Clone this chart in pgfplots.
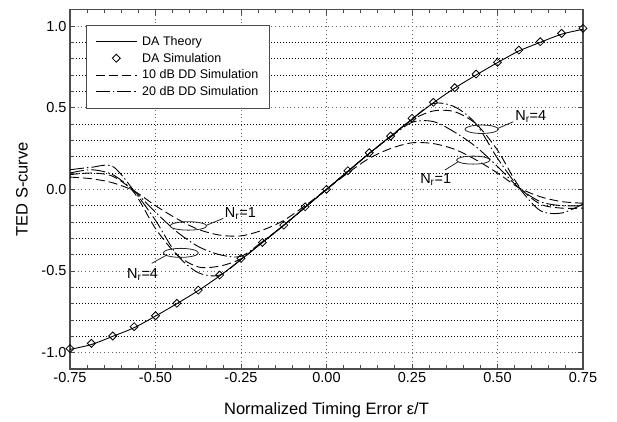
\documentclass[border=0pt]{standalone}
\usepackage{fontspec}
\setmainfont{Liberation Sans}
\usepackage{pgfplots}
\pgfplotsset{compat=1.18}
\pgfplotsset{
  lineleg/.style={legend image code/.code={\draw[##1] (0pt,0pt) -- (41pt,0pt);}},
  markleg/.style={legend image code/.code={\draw[mark repeat=2,mark phase=2,##1] plot coordinates {(0pt,0pt) (20.5pt,0pt) (41pt,0pt)};}},
}
\begin{document}
\begin{tikzpicture}
\begin{axis}[
  scale only axis, width=513pt, height=359.3pt,
  xmin=-0.75, xmax=0.75, ymin=-1.1, ymax=1.1,
  xtick={-0.75,-0.5,-0.25,0,0.25,0.5,0.75},
  xticklabels={-0.75,-0.50,-0.25,0.00,0.25,0.50,0.75},
  ytick={-1,-0.5,0,0.5,1},
  yticklabels={-1.0,-0.5,0.0,0.5,1.0},
  minor x tick num=4, minor y tick num=4,
  tick align=inside, tick pos=both,
  major tick length=5pt, minor tick length=3.5pt,
  axis line style={draw=black!70, line width=1.2pt},
  every tick/.style={draw=black!70, line width=0.9pt},
  xmajorgrids, ymajorgrids, yminorgrids,
  major grid style={draw=black!60, line width=0.8pt, dash pattern=on 0.8pt off 3pt},
  minor grid style={draw=black, line width=0.8pt, dash pattern=on 0.8pt off 2.2pt},
  tick label style={font=\fontsize{14.5}{16}\selectfont},
  label style={font=\fontsize{16.5}{19}\selectfont},
  xlabel={Normalized Timing Error ε/T},
  ylabel={TED S-curve},
  xlabel style={at={(axis description cs:0.5,-0.114)}, anchor=center},
  ylabel style={at={(axis description cs:-0.0936,0.5)}, anchor=center},
  legend cell align=left,
  legend style={at={(axis description cs:0.031,0.958)}, anchor=north west,
    draw=black!70, line width=0.8pt, fill=white,
    font=\fontsize{12.5}{14}\selectfont, inner xsep=9pt, inner ysep=9pt,
    row sep=2.2pt, column sep=3pt},
]
% DA theory
\addplot[black, line width=0.9pt, smooth, lineleg] coordinates {
(-0.75,-0.98) (-0.6875,-0.95) (-0.625,-0.90) (-0.5625,-0.847) (-0.5,-0.776)
(-0.4375,-0.70) (-0.375,-0.62) (-0.3125,-0.53) (-0.25,-0.43) (-0.1875,-0.325)
(-0.125,-0.22) (-0.0625,-0.11) (0,0) (0.0625,0.11) (0.125,0.22) (0.1875,0.325)
(0.25,0.43) (0.3125,0.53) (0.375,0.62) (0.4375,0.70) (0.5,0.776) (0.5625,0.847)
(0.625,0.90) (0.6875,0.95) (0.75,0.98)};
\addlegendentry{DA Theory}
% DA simulation
\addplot[black, only marks, mark=square, mark size=2.8pt, mark options={rotate=45, solid, line width=0.8pt}, markleg] coordinates {
(-0.75,-0.975) (-0.6875,-0.943) (-0.625,-0.898) (-0.5625,-0.841) (-0.5,-0.774)
(-0.4375,-0.698) (-0.375,-0.617) (-0.3125,-0.525) (-0.25,-0.423) (-0.1875,-0.325)
(-0.125,-0.219) (-0.0625,-0.107) (0,0) (0.0625,0.114) (0.125,0.224) (0.1875,0.326)
(0.25,0.435) (0.3125,0.533) (0.375,0.622) (0.4375,0.706) (0.5,0.778) (0.5625,0.853)
(0.625,0.904) (0.6875,0.955) (0.75,0.986)};
\addlegendentry{DA Simulation}
% 10 dB DD, Nr=1
\addplot[black, line width=0.9pt, smooth, dash pattern=on 9pt off 4pt, lineleg] coordinates {
(-0.75,0.075) (-0.6875,0.065) (-0.625,0.04) (-0.5625,-0.01) (-0.5,-0.10)
(-0.4375,-0.18) (-0.375,-0.245) (-0.3125,-0.28) (-0.25,-0.285) (-0.1875,-0.25)
(-0.125,-0.19) (-0.0625,-0.10) (0,0) (0.0625,0.10) (0.125,0.19) (0.1875,0.25)
(0.25,0.285) (0.3125,0.28) (0.375,0.245) (0.4375,0.18) (0.5,0.10) (0.5625,0.01)
(0.625,-0.045) (0.6875,-0.075) (0.75,-0.085)};
\addlegendentry{10 dB DD Simulation}
% 20 dB DD, Nr=1
\addplot[black, line width=0.9pt, smooth, dash pattern=on 14pt off 3pt on 1.5pt off 3pt, lineleg] coordinates {
(-0.75,0.10) (-0.6875,0.12) (-0.625,0.09) (-0.5625,-0.01) (-0.5,-0.14)
(-0.4375,-0.26) (-0.375,-0.35) (-0.3125,-0.40) (-0.25,-0.41) (-0.1875,-0.32)
(-0.125,-0.22) (-0.0625,-0.11) (0,0) (0.0625,0.11) (0.125,0.22) (0.1875,0.32)
(0.25,0.41) (0.3125,0.415) (0.375,0.35) (0.4375,0.26) (0.5,0.14) (0.5625,0.01)
(0.625,-0.075) (0.6875,-0.10) (0.75,-0.10)};
\addlegendentry{20 dB DD Simulation\hspace{5pt}}
% 10 dB DD, Nr=4
\addplot[black, line width=0.9pt, smooth, dash pattern=on 9pt off 4pt, forget plot] coordinates {
(-0.75,0.09) (-0.6875,0.10) (-0.625,0.08) (-0.5625,-0.02) (-0.5,-0.24)
(-0.4375,-0.40) (-0.375,-0.475) (-0.3125,-0.47) (-0.25,-0.425) (-0.1875,-0.325)
(-0.125,-0.22) (-0.0625,-0.11) (0,0) (0.0625,0.11) (0.125,0.22) (0.1875,0.325)
(0.25,0.425) (0.3125,0.48) (0.375,0.475) (0.4375,0.40) (0.5,0.24) (0.5625,0.02)
(0.625,-0.09) (0.6875,-0.115) (0.75,-0.115)};
% 20 dB DD, Nr=4
\addplot[black, line width=0.9pt, smooth, dash pattern=on 14pt off 3pt on 1.5pt off 3pt, forget plot] coordinates {
(-0.75,0.12) (-0.6875,0.135) (-0.625,0.14) (-0.5625,-0.01) (-0.5,-0.19)
(-0.4375,-0.40) (-0.375,-0.51) (-0.3125,-0.525) (-0.25,-0.43) (-0.1875,-0.325)
(-0.125,-0.22) (-0.0625,-0.11) (0,0) (0.0625,0.11) (0.125,0.22) (0.1875,0.325)
(0.25,0.43) (0.3125,0.525) (0.375,0.505) (0.4375,0.40) (0.5,0.19) (0.5625,0.01)
(0.625,-0.13) (0.6875,-0.145) (0.75,-0.09)};
% annotations
\begin{scope}[black!85, line width=0.8pt]
\draw (axis cs:0.4538,0.368) ellipse [x radius=16.7pt, y radius=4.2pt];
\draw (axis cs:0.502,0.374) -- (axis cs:0.546,0.414);
\node[anchor=base west, inner sep=0pt, black, font=\fontsize{14.5}{16}\selectfont] at (axis cs:0.551,0.424) {N\textsubscript{r}=4};
\draw (axis cs:0.429,0.179) ellipse [x radius=16.7pt, y radius=4pt];
\draw (axis cs:0.346,0.118) -- (axis cs:0.385,0.169);
\node[anchor=base west, inner sep=0pt, black, font=\fontsize{14.5}{16}\selectfont] at (axis cs:0.273,0.037) {N\textsubscript{r}=1};
\draw (axis cs:-0.404,-0.224) ellipse [x radius=18.3pt, y radius=4.2pt];
\draw (axis cs:-0.350,-0.219) -- (axis cs:-0.302,-0.178);
\node[anchor=base west, inner sep=0pt, black, font=\fontsize{14.5}{16}\selectfont] at (axis cs:-0.298,-0.171) {N\textsubscript{r}=1};
\draw (axis cs:-0.426,-0.389) ellipse [x radius=17.5pt, y radius=4.5pt];
\draw (axis cs:-0.511,-0.453) -- (axis cs:-0.467,-0.402);
\node[anchor=base west, inner sep=0pt, black, font=\fontsize{14.5}{16}\selectfont] at (axis cs:-0.584,-0.545) {N\textsubscript{r}=4};
\end{scope}
\end{axis}
\path ([xshift=-70pt,yshift=-53pt]current axis.south west) rectangle ([xshift=34pt,yshift=9.7pt]current axis.north east);
\end{tikzpicture}
\end{document}
